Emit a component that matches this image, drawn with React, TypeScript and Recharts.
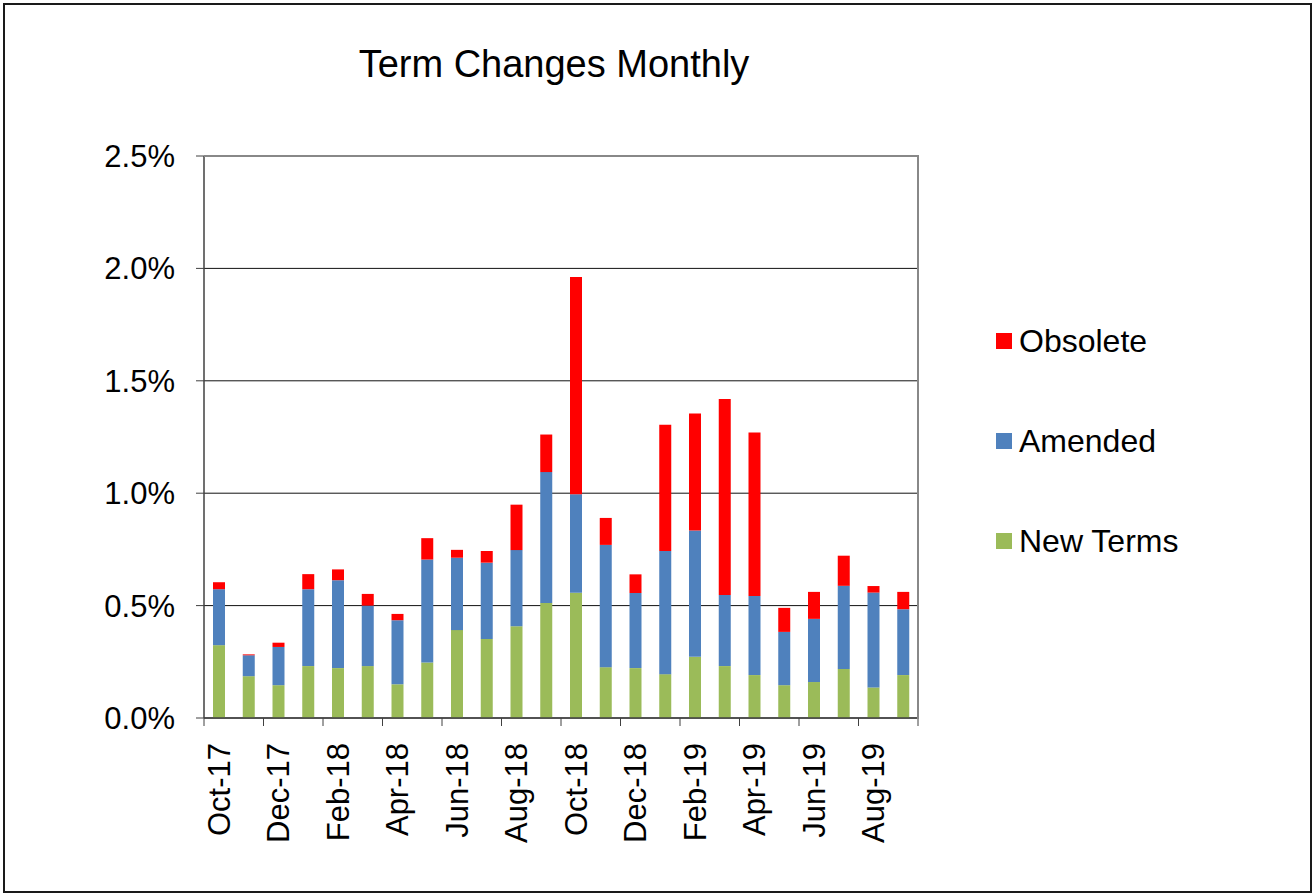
import { BarChart, Bar, XAxis, YAxis, CartesianGrid, Legend } from "recharts";

const months = [
  "Oct-17", "Nov-17", "Dec-17", "Jan-18", "Feb-18", "Mar-18", "Apr-18", "May-18",
  "Jun-18", "Jul-18", "Aug-18", "Sep-18", "Oct-18", "Nov-18", "Dec-18", "Jan-19",
  "Feb-19", "Mar-19", "Apr-19", "May-19", "Jun-19", "Jul-19", "Aug-19", "Sep-19",
];

// values in percent
const newTerms = [
  0.324, 0.186, 0.146, 0.231, 0.222, 0.231, 0.15, 0.247, 0.391, 0.351, 0.408, 0.512,
  0.557, 0.226, 0.222, 0.195, 0.272, 0.231, 0.191, 0.146, 0.16, 0.218, 0.136, 0.191,
];
const amended = [
  0.249, 0.093, 0.17, 0.342, 0.391, 0.269, 0.285, 0.458, 0.322, 0.34, 0.339, 0.582,
  0.438, 0.544, 0.334, 0.548, 0.562, 0.316, 0.352, 0.237, 0.281, 0.37, 0.422, 0.293,
];
const obsolete = [
  0.031, 0.004, 0.019, 0.067, 0.048, 0.052, 0.028, 0.095, 0.035, 0.052, 0.202, 0.167,
  0.967, 0.12, 0.083, 0.561, 0.52, 0.872, 0.727, 0.107, 0.12, 0.134, 0.029, 0.077,
];
const yTicks = [0, 0.5, 1, 1.5, 2, 2.5];
const legendOrder = ["Obsolete", "Amended", "New Terms"];

const FONT = '"Liberation Sans", Arial, sans-serif';
const W = 1313;
const H = 894;
const PLOT_LEFT = 204;
const PLOT_RIGHT = 918;
const PLOT_TOP = 156;
const PLOT_BOTTOM = 718;
const BAND = (PLOT_RIGHT - PLOT_LEFT) / months.length;

const data = months.map((m, i) => ({
  month: m,
  newTerms: newTerms[i],
  amended: amended[i],
  obsolete: obsolete[i],
}));

function MonthTick(props: any) {
  const { x, y, payload, index } = props;
  const i = payload?.index ?? index;
  const axisY = y - 25;
  const last = i === months.length - 1;
  return (
    <g>
      {i % 2 === 0 && (
        <line x1={x - BAND / 2} x2={x - BAND / 2} y1={axisY} y2={axisY + 8} stroke="#404040" />
      )}
      {last && <line x1={x + BAND / 2} x2={x + BAND / 2} y1={axisY} y2={axisY + 8} stroke="#404040" />}
      {i % 2 === 0 && (
        <text
          x={x}
          y={y}
          dy="0.35em"
          transform={`rotate(-90 ${x} ${y})`}
          textAnchor="end"
          fontSize={31}
          fontFamily={FONT}
          fill="#000"
        >
          {payload.value}
        </text>
      )}
    </g>
  );
}

function LegendBox({ payload }: any) {
  const items = (payload || [])
    .slice()
    .sort((a: any, b: any) => legendOrder.indexOf(a.value) - legendOrder.indexOf(b.value));
  return (
    <div style={{ fontFamily: FONT }}>
      {items.map((it: any) => (
        <div
          key={it.value}
          style={{ display: "flex", alignItems: "center", height: 40, marginBottom: 60 }}
        >
          <span style={{ width: 16, height: 16, background: it.color, marginRight: 7 }} />
          <span style={{ fontSize: 32, color: "#000" }}>{it.value}</span>
        </div>
      ))}
    </div>
  );
}

export default function App() {
  return (
    <div style={{ position: "absolute", left: 0, top: 0, width: W, height: H, background: "#fff" }}>
      <div
        style={{
          position: "absolute",
          left: 3,
          top: 3,
          width: 1305,
          height: 886,
          border: "2px solid #1a1a1a",
        }}
      />
      <div
        style={{
          position: "absolute",
          left: 554,
          top: 45,
          transform: "translateX(-50%)",
          whiteSpace: "nowrap",
          fontFamily: FONT,
          fontSize: 38,
          lineHeight: "38px",
          color: "#000",
        }}
      >
        Term Changes Monthly
      </div>
      <div style={{ position: "absolute", left: 0, top: 0 }}>
        <BarChart
          width={W}
          height={H}
          data={data}
          margin={{ top: PLOT_TOP, right: W - PLOT_RIGHT, bottom: 0, left: 0 }}
        >
          <CartesianGrid vertical={false} stroke="#111" />
          <XAxis
            dataKey="month"
            height={H - PLOT_BOTTOM}
            interval={0}
            tickSize={8}
            tickMargin={17}
            tickLine={false}
            axisLine={{ stroke: "#404040", strokeWidth: 1.5 }}
            tick={<MonthTick />}
          />
          <YAxis
            width={PLOT_LEFT}
            domain={[0, 2.5]}
            ticks={yTicks}
            tickSize={8}
            tickMargin={21}
            tickFormatter={(v: number) => v.toFixed(1) + "%"}
            tick={{ fontSize: 31, fontFamily: FONT, fill: "#000" }}
            tickLine={{ stroke: "#404040" }}
            axisLine={{ stroke: "#404040", strokeWidth: 1.5 }}
          />
          <Legend
            layout="horizontal"
            verticalAlign="middle"
            align="center"
            content={<LegendBox />}
            wrapperStyle={{ left: 996, top: 321, width: 240 }}
          />
          <Bar dataKey="newTerms" name="New Terms" stackId="a" fill="#9BBB59" barSize={12} isAnimationActive={false} />
          <Bar dataKey="amended" name="Amended" stackId="a" fill="#4F81BD" barSize={12} isAnimationActive={false} />
          <Bar dataKey="obsolete" name="Obsolete" stackId="a" fill="#FF0000" barSize={12} isAnimationActive={false} />
        </BarChart>
      </div>
      {/* gray plot-area border on top and right */}
      <div
        style={{
          position: "absolute",
          left: PLOT_LEFT,
          top: PLOT_TOP - 1,
          width: PLOT_RIGHT - PLOT_LEFT - 1,
          height: PLOT_BOTTOM - PLOT_TOP,
          borderTop: "2px solid #888",
          borderRight: "2px solid #888",
          pointerEvents: "none",
        }}
      />
    </div>
  );
}
